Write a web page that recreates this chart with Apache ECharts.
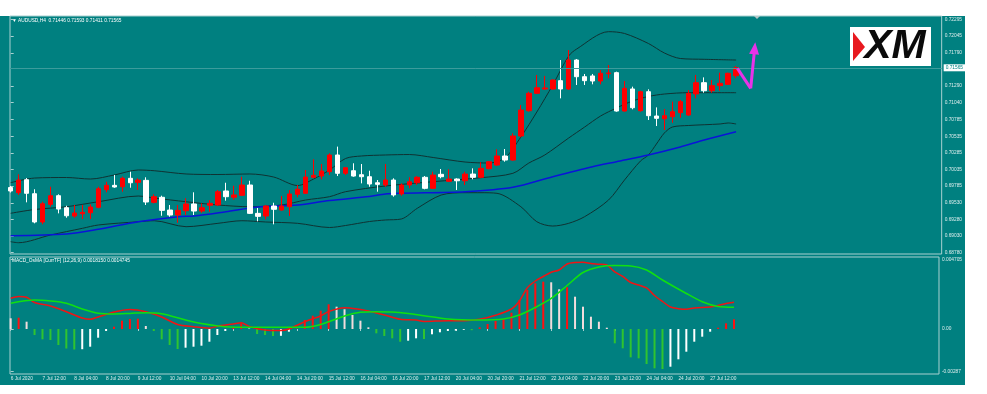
<!DOCTYPE html>
<html><head><meta charset="utf-8">
<script src="https://cdn.jsdelivr.net/npm/echarts@6.0.0/dist/echarts.min.js"></script>
<style>
html,body{margin:0;padding:0;background:#fff;width:987px;height:394px;overflow:hidden}
#bg{position:absolute;left:0;top:16px;width:965px;height:369px;background:#008080}
#chart{position:absolute;left:0;top:0;width:965px;height:394px}
</style></head><body>
<div id="bg"></div><div id="chart"></div>
<script>
// ---- price candles (H4 bars, index 0 = 6 Jul 20:00) ----
const open  = [0.69762,0.69684,0.69880,0.69669,0.69243,0.69509,0.69639,0.69458,0.69333,0.69367,
0.69382,0.69464,0.69729,0.69795,0.69774,0.69901,0.69840,0.69870,0.69539,0.69615,
0.69423,0.69348,0.69413,0.69514,0.69408,0.69494,0.69499,0.69710,0.69615,0.69645,
0.69800,0.69373,0.69333,0.69484,0.69423,0.69473,0.69660,0.69675,0.69916,0.69935,
0.70000,0.70252,0.69976,0.70015,0.69955,0.69925,0.69834,0.69800,0.69875,0.69665,
0.69800,0.69834,0.69916,0.69750,0.69961,0.69855,0.69890,0.69864,0.69965,0.69916,
0.70046,0.70101,0.70237,0.70176,0.70538,0.70919,0.71181,0.71246,0.71246,0.71371,
0.71246,0.71682,0.71431,0.71442,0.71366,0.71477,0.71492,0.70914,0.71246,0.70919,
0.71205,0.70839,0.70798,0.70829,0.70889,0.70854,0.71171,0.71341,0.71220,0.71296,
0.71316,0.71446];
const high  = [0.69785,0.69961,0.69905,0.69736,0.69548,0.69774,0.69660,0.69488,0.69499,0.69499,
0.69509,0.69774,0.69849,0.69951,0.69925,0.70000,0.69901,0.69916,0.69660,0.69639,
0.69499,0.69499,0.69600,0.69690,0.69524,0.69574,0.69725,0.69834,0.69789,0.69925,
0.69864,0.69454,0.69494,0.69533,0.69634,0.69725,0.69800,0.70026,0.70187,0.70116,
0.70277,0.70378,0.70067,0.70127,0.70116,0.70015,0.69875,0.70116,0.69901,0.69825,
0.69916,0.69935,0.69935,0.70000,0.70041,0.70036,0.69901,0.70000,0.70051,0.70142,
0.70161,0.70338,0.70342,0.70578,0.71005,0.71205,0.71457,0.71442,0.71392,0.71682,
0.71833,0.71697,0.71472,0.71472,0.71532,0.71607,0.71507,0.71366,0.71281,0.71220,
0.71241,0.70969,0.70944,0.71055,0.71080,0.71231,0.71457,0.71421,0.71381,0.71492,
0.71492,0.71593];
const low   = [0.69687,0.69650,0.69539,0.69223,0.69208,0.69473,0.69373,0.69307,0.69307,0.69288,
0.69288,0.69449,0.69690,0.69759,0.69699,0.69759,0.69725,0.69499,0.69524,0.69337,
0.69322,0.69232,0.69348,0.69348,0.69382,0.69397,0.69488,0.69564,0.69574,0.69635,
0.69363,0.69253,0.69284,0.69208,0.69413,0.69333,0.69615,0.69665,0.69901,0.69886,
0.69950,0.69935,0.69950,0.69925,0.69825,0.69774,0.69699,0.69774,0.69624,0.69639,
0.69750,0.69800,0.69735,0.69740,0.69901,0.69845,0.69725,0.69800,0.69886,0.69901,
0.70036,0.70086,0.70151,0.70166,0.70518,0.70904,0.71171,0.71231,0.71231,0.71105,
0.71231,0.71306,0.71306,0.71316,0.71316,0.71407,0.70904,0.70904,0.70940,0.70904,
0.70779,0.70688,0.70628,0.70738,0.70813,0.70844,0.71105,0.71190,0.71190,0.71220,
0.71306,0.71411];
const close = [0.69710,0.69875,0.69675,0.69243,0.69518,0.69639,0.69438,0.69337,0.69378,0.69388,
0.69469,0.69744,0.69795,0.69770,0.69901,0.69834,0.69875,0.69544,0.69624,0.69418,
0.69348,0.69418,0.69514,0.69408,0.69458,0.69524,0.69699,0.69624,0.69650,0.69800,
0.69373,0.69328,0.69484,0.69434,0.69484,0.69665,0.69736,0.69920,0.69946,0.70011,
0.70252,0.69976,0.70061,0.69935,0.69925,0.69815,0.69810,0.69875,0.69650,0.69800,
0.69849,0.69916,0.69750,0.69950,0.69925,0.69890,0.69864,0.69965,0.69916,0.70051,
0.70151,0.70237,0.70176,0.70538,0.70929,0.71181,0.71265,0.71261,0.71381,0.71246,
0.71682,0.71431,0.71371,0.71366,0.71482,0.71487,0.70914,0.71256,0.70964,0.71205,
0.70844,0.70804,0.70844,0.70904,0.71055,0.71181,0.71341,0.71220,0.71296,0.71331,
0.71482,0.71565];
const bidPrice = 0.71565;

// ---- Bollinger bands & moving average, read at bar indices ----
const bbUpperBars = [0,3,7,10,13,16,18,22,26,30,33,36,38,40,42,44,47,50,53,57,60,62,64,66,68,70,71,75,77,80,82,84,87,91];
const bbUpper = [0.69835,0.69905,0.69913,0.69890,0.69951,0.70026,0.70015,0.69966,0.69958,0.69966,0.69920,0.69792,0.69890,0.70026,0.70199,0.70237,0.70252,0.70259,0.70214,0.70146,0.70131,0.70207,0.70523,0.70899,0.71306,0.71743,0.71848,0.72109,0.72082,0.71931,0.71788,0.71705,0.71693,0.71682];
const bbMidBars = [0,3,7,11,16,18,22,26,30,34,37,40,42,47,53,59,63,65,67,70,72,74,76,78,80,82,85,91];
const bbMid = [0.69374,0.69431,0.69473,0.69548,0.69634,0.69604,0.69548,0.69499,0.69473,0.69499,0.69574,0.69624,0.69699,0.69785,0.69850,0.69910,0.69976,0.70131,0.70252,0.70508,0.70673,0.70839,0.70960,0.71065,0.71133,0.71170,0.71190,0.71190];
const bbLowBars = [0,1,5,9,11,16,18,22,26,29,32,36,40,42,45,47,49,51,54,57,59,61,64,66,68,70,72,75,77,79,80,81,82,83,85,89,90,91];
const bbLow = [0.68946,0.68931,0.69047,0.69148,0.69198,0.69247,0.69262,0.69172,0.69223,0.69262,0.69243,0.69223,0.69160,0.69190,0.69250,0.69273,0.69288,0.69449,0.69649,0.69684,0.69684,0.69675,0.69473,0.69247,0.69182,0.69223,0.69323,0.69574,0.69875,0.70161,0.70252,0.70417,0.70583,0.70673,0.70696,0.70719,0.70734,0.70719];
const maBars = [0,7,11,16,21,23,27,31,36,40,45,47,49,57,63,68,73,76,80,84,87,91];
const ma = [0.69036,0.69062,0.69133,0.69247,0.69323,0.69333,0.69398,0.69469,0.69499,0.69567,0.69627,0.69664,0.69675,0.69699,0.69765,0.69925,0.70076,0.70151,0.70252,0.70372,0.70478,0.70603];

// ---- MACD_OsMA panel ----
const macdHist = [0.000725,0.000766,0.000495,-0.000407,-0.000698,-0.000746,-0.001085,-0.001322,-0.001390,-0.001370,
-0.001200,-0.000590,-0.000136,0.000156,0.000563,0.000678,0.000698,0.000203,-0.000136,-0.000698,
-0.001085,-0.001356,-0.001268,-0.001200,-0.001132,-0.000861,-0.000407,-0.000136,0.000115,0.000386,
0.000034,-0.000339,-0.000407,-0.000475,-0.000461,-0.000183,0.000020,0.000610,0.000902,0.001241,
0.001675,0.001512,0.001336,0.000949,0.000563,0.000115,-0.000292,-0.000475,-0.000631,-0.000861,
-0.000793,-0.000631,-0.000678,-0.000359,-0.000224,-0.000136,-0.000115,-0.000054,-0.000081,0.000115,
0.000339,0.000542,0.000658,0.001105,0.001966,0.002644,0.003098,0.003207,0.003166,0.002692,
0.002827,0.002190,0.001512,0.000834,0.000495,0.000088,-0.000970,-0.001309,-0.001919,-0.001987,
-0.002373,-0.002665,-0.002712,-0.002556,-0.002054,-0.001539,-0.000861,-0.000522,-0.000183,0.000088,
0.000386,0.000658];
const macdBars = [0,1,2,3,5,7,9,10,11,13,15,17,19,21,23,25,26,28,29,30,32,34,35,37,39,40,42,44,45,47,49,51,52,55,57,59,61,63,64,65,66,67,68,69,70,71,72,73,74,75,76,77,78,79,80,81,82,83,84,85,86,88,89,90,91];
const macdLine = [0.002081,0.002204,0.002149,0.001797,0.001559,0.001173,0.000746,0.000658,0.000814,0.001153,0.001322,0.001173,0.000814,0.000305,0.000156,0.000054,0.000190,0.000339,0.000427,0.000170,-0.000068,-0.000102,0.000000,0.000495,0.000881,0.001187,0.001444,0.001322,0.001220,0.000949,0.000658,0.000610,0.000509,0.000563,0.000563,0.000658,0.000929,0.001356,0.001898,0.002800,0.003254,0.003560,0.003844,0.004000,0.004407,0.004509,0.004522,0.004441,0.004393,0.004339,0.003865,0.003560,0.003153,0.002983,0.002780,0.002271,0.001865,0.001492,0.001376,0.001336,0.001424,0.001492,0.001593,0.001729,0.001815];
const signalBars = [0,3,5,7,9,11,13,15,17,19,22,24,27,30,34,37,39,42,44,46,48,50,52,55,59,62,64,66,68,70,72,74,76,78,80,82,85,87,89,91];
const signalLine = [0.001742,0.001966,0.001898,0.001742,0.001356,0.001071,0.001017,0.001058,0.001105,0.001031,0.000610,0.000373,0.000156,0.000115,0.000115,0.000115,0.000305,0.000881,0.001132,0.001173,0.001153,0.001051,0.000902,0.000678,0.000610,0.000678,0.000949,0.001458,0.002068,0.002949,0.003831,0.004204,0.004299,0.004271,0.004000,0.003322,0.002407,0.001851,0.001526,0.0014745];

// ---- axis tick labels ----
const priceTicks = [0.72295,0.72045,0.71790,0.71290,0.71040,0.70785,0.70535,0.70285,0.70035,0.69785,0.69530,0.69280,0.69030,0.68780];
const macdTicks = [0.004705, 0, -0.00287];
const macdTickLabels = ['0.004705','0.00','-0.00287'];
const timeLabelBars = [0,4,8,12,16,20,24,28,32,36,40,44,48,52,56,60,64,68,72,76,80,84,88];
const timeLabels = ['6 Jul 2020','7 Jul 12:00','8 Jul 04:00','8 Jul 20:00','9 Jul 12:00','10 Jul 04:00','10 Jul 20:00','13 Jul 12:00','14 Jul 04:00','14 Jul 20:00','15 Jul 12:00','16 Jul 04:00','16 Jul 20:00','17 Jul 12:00','20 Jul 04:00','20 Jul 20:00','21 Jul 12:00','22 Jul 04:00','22 Jul 20:00','23 Jul 12:00','24 Jul 04:00','24 Jul 20:00','27 Jul 12:00'];

// ---- annotation arrow (data coordinates) ----
const arrowPath = [[91.16,0.71557],[92.83,0.71256]];
const arrowShaft = [[92.83,0.71256],[93.33,0.71859]];

const FONT = 'Liberation Sans';
const LABEL = '#dcecec';
const BORDER = '#a8d0d0';
const xMin = -0.0875, xMax = 116.7875;

const pairs = (bars, vals) => bars.map((b, k) => [b, vals[k]]);
const candleData = open.map((o, i) => [i, o, close[i], low[i], high[i]]);
function histColor(i) {
  const v = macdHist[i];
  const rising = i > 0 && v > macdHist[i - 1];
  if (v >= 0) return rising ? '#ff1010' : '#f2dcdc';
  return rising ? '#ffffff' : '#2fc42f';
}
const lineBase = { type: 'line', showSymbol: false, symbol: 'none', smooth: 0.3, silent: true, z: 2 };

const chart = echarts.init(document.getElementById('chart'), null, { renderer: 'canvas' });
chart.setOption({
  animation: false,
  textStyle: { fontFamily: FONT },
  grid: [
    { left: 10, top: 16, width: 935, height: 238, show: true, borderColor: BORDER, borderWidth: 1, backgroundColor: 'transparent' },
    { left: 10, top: 257, width: 935, height: 117, show: true, borderColor: BORDER, borderWidth: 1, backgroundColor: 'transparent' }
  ],
  xAxis: [
    { type: 'value', gridIndex: 0, min: xMin, max: xMax, axisLine: { show: false }, axisTick: { show: false }, axisLabel: { show: false }, splitLine: { show: false } },
    { type: 'value', gridIndex: 1, min: xMin, max: xMax, axisLine: { show: false },
      axisTick: { show: true, customValues: timeLabelBars, length: 2, lineStyle: { color: BORDER } },
      axisLabel: { customValues: timeLabelBars, formatter: v => timeLabels[timeLabelBars.indexOf(Math.round(v))], color: LABEL, fontSize: 4.8, fontFamily: FONT, align: 'left', margin: 2 },
      splitLine: { show: false } }
  ],
  yAxis: [
    { type: 'value', gridIndex: 0, position: 'right', min: 0.68761, max: 0.72345, axisLine: { show: false },
      axisTick: { show: true, customValues: priceTicks, length: 3, lineStyle: { color: BORDER } },
      axisLabel: { customValues: priceTicks, formatter: v => v.toFixed(5), color: LABEL, fontSize: 4.8, fontFamily: FONT, margin: 3 },
      splitLine: { show: false } },
    { type: 'value', gridIndex: 1, position: 'right', min: -0.00305, max: 0.00488, axisLine: { show: false },
      axisTick: { show: true, customValues: macdTicks, length: 3, lineStyle: { color: BORDER } },
      axisLabel: { customValues: macdTicks, formatter: v => macdTickLabels[macdTicks.indexOf(v)] ?? '', color: LABEL, fontSize: 4.8, fontFamily: FONT, margin: 3 },
      splitLine: { show: false } }
  ],
  graphic: [
    { type: 'text', left: 12, top: 18, style: { text: '▼ AUDUSD,H4  0.71446 0.71593 0.71411 0.71565', fill: '#ffffff', fontSize: 4.8, fontFamily: FONT } },
    { type: 'text', left: 12, top: 258.5, style: { text: 'MACD_OsMA [CurrTF] (12,26,9) 0.0018150 0.0014745', fill: '#ffffff', fontSize: 4.8, fontFamily: FONT } },
    { type: 'polygon', shape: { points: [[754, 16], [760, 16], [757, 19]] }, style: { fill: '#b8c8c8' } },
    { type: 'group', x: 850, y: 27, children: [
      { type: 'rect', shape: { x: 0, y: 0, width: 81, height: 39 }, style: { fill: '#ffffff' } },
      { type: 'text', x: 45, y: 20, style: { text: 'XM', fill: '#0a0a0a', font: 'italic 900 41px "Liberation Sans"', align: 'center', verticalAlign: 'middle', textAlign: 'center', textVerticalAlign: 'middle' } },
      { type: 'polygon', shape: { points: [[3, 5], [15, 20], [3, 34]] }, style: { fill: '#e8191f' } }
    ] }
  ],
  series: [
    Object.assign({}, lineBase, { name: 'BB upper', xAxisIndex: 0, yAxisIndex: 0, data: pairs(bbUpperBars, bbUpper), lineStyle: { color: '#0f3232', width: 1 } }),
    Object.assign({}, lineBase, { name: 'BB mid', xAxisIndex: 0, yAxisIndex: 0, data: pairs(bbMidBars, bbMid), lineStyle: { color: '#0f3232', width: 1 } }),
    Object.assign({}, lineBase, { name: 'BB lower', xAxisIndex: 0, yAxisIndex: 0, data: pairs(bbLowBars, bbLow), lineStyle: { color: '#0f3232', width: 1 } }),
    Object.assign({}, lineBase, { name: 'MA', xAxisIndex: 0, yAxisIndex: 0, data: pairs(maBars, ma), lineStyle: { color: '#0a14d8', width: 1.5 },
      markLine: {
        silent: true, symbol: ['none', 'none'], precision: 5,
        lineStyle: { color: '#3c9c9c', width: 1, type: 'solid' },
        label: { position: 'end', formatter: () => bidPrice.toFixed(5), backgroundColor: '#ffffff', color: '#008080', fontSize: 4.8, fontFamily: FONT, padding: [1, 2], distance: 2 },
        data: [{ yAxis: bidPrice }]
      } }),
    {
      name: 'AUDUSD', type: 'candlestick', xAxisIndex: 0, yAxisIndex: 0, data: candleData,
      encode: { x: 0, y: [1, 2, 3, 4] }, barWidth: 5, z: 3, silent: true,
      itemStyle: { color: '#ff0000', color0: '#ffffff', borderColor: '#ff0000', borderColor0: '#ffffff', borderWidth: 1 }
    },
    {
      name: 'arrow', type: 'line', xAxisIndex: 0, yAxisIndex: 0, data: arrowPath, showSymbol: false, symbol: 'none', z: 5, silent: true,
      lineStyle: { color: '#e832e8', width: 3 },
      markLine: {
        silent: true, symbol: ['none', 'triangle'], symbolSize: [10, 12], label: { show: false }, precision: 5,
        lineStyle: { color: '#e832e8', width: 3, type: 'solid' },
        data: [[{ coord: arrowShaft[0] }, { coord: arrowShaft[1] }]]
      }
    },
    {
      name: 'OsMA', type: 'bar', xAxisIndex: 1, yAxisIndex: 1, barWidth: 2, silent: true,
      data: macdHist.map((v, i) => [i, v]),
      itemStyle: { color: p => histColor(p.dataIndex) }
    },
    Object.assign({}, lineBase, { name: 'MACD', xAxisIndex: 1, yAxisIndex: 1, data: pairs(macdBars, macdLine), lineStyle: { color: '#f01414', width: 1.5 }, z: 4 }),
    Object.assign({}, lineBase, { name: 'Signal', xAxisIndex: 1, yAxisIndex: 1, data: pairs(signalBars, signalLine), lineStyle: { color: '#10e010', width: 1.5 }, z: 4 })
  ]
});
</script></body></html>
